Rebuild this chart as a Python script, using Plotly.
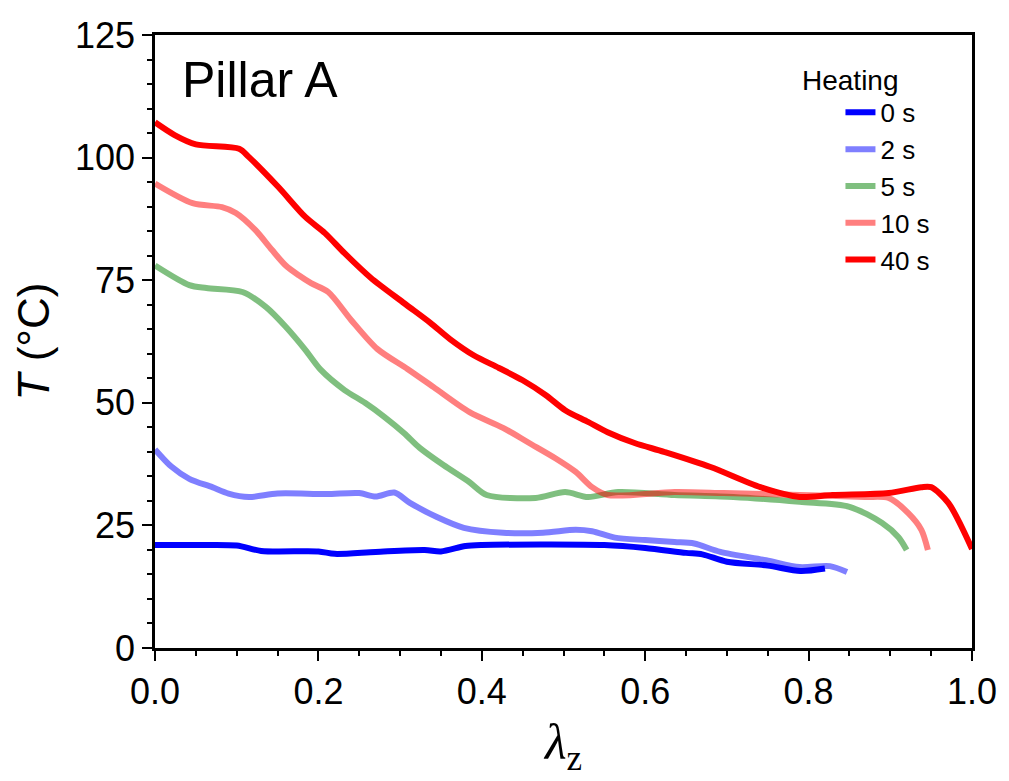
import plotly.graph_objects as go

# Data
x_0s = [0, 0.05, 0.10, 0.13, 0.20, 0.22, 0.27, 0.33, 0.35, 0.38, 0.40, 0.55, 0.60, 0.65, 0.67, 0.70, 0.75, 0.79, 0.82]
t_0s = [21, 21, 20.9, 19.8, 19.7, 19.2, 19.6, 20, 19.7, 20.8, 21, 21, 20.4, 19.4, 19.1, 17.6, 16.8, 15.7, 16.2]

x_2s = [0, 0.02, 0.042, 0.07, 0.09, 0.115, 0.15, 0.21, 0.25, 0.27, 0.293, 0.312, 0.345, 0.378, 0.426,
        0.475, 0.515, 0.535, 0.563, 0.60, 0.636, 0.66, 0.692, 0.748, 0.789, 0.826, 0.847]
t_2s = [40.5, 37, 34.5, 32.8, 31.5, 30.8, 31.5, 31.4, 31.6, 30.9, 31.7, 29.6, 26.7, 24.5, 23.5,
        23.5, 24.1, 23.8, 22.5, 22.0, 21.6, 21.3, 19.6, 17.9, 16.5, 16.7, 15.5]

x_5s = [0, 0.042, 0.063, 0.107, 0.136, 0.16, 0.184, 0.203, 0.232, 0.257, 0.281, 0.305, 0.324, 0.353,
        0.385, 0.406, 0.466, 0.502, 0.53, 0.567, 0.636, 0.708, 0.789, 0.85, 0.89, 0.91, 0.92]
t_5s = [78, 74, 73.4, 72.6, 69.5, 65.5, 60.8, 56.7, 52.6, 50, 47.1, 43.8, 40.8, 37.3,
        33.8, 31.2, 30.6, 31.8, 30.8, 31.8, 31.2, 30.8, 29.8, 28.8, 25.5, 22.6, 20]

x_10s = [0, 0.046, 0.082, 0.099, 0.123, 0.143, 0.16, 0.176, 0.191, 0.212, 0.24, 0.272, 0.309, 0.341,
         0.385, 0.426, 0.458, 0.49, 0.515, 0.535, 0.554, 0.636, 0.696, 0.789, 0.869, 0.898, 0.922, 0.938, 0.946]
t_10s = [94.7, 90.7, 89.9, 88.7, 85.2, 81.2, 78.0, 76.0, 74.4, 72.6, 66.9, 61, 56.9, 53.2,
         48.1, 44.9, 41.8, 38.7, 35.9, 32.8, 31.2, 31.8, 31.6, 31.2, 30.8, 30.6, 27.5, 24.1, 20]

x_40s = [0, 0.024, 0.05, 0.103, 0.115, 0.151, 0.184, 0.208, 0.232, 0.264, 0.305, 0.337, 0.361, 0.39,
         0.421, 0.45, 0.478, 0.502, 0.53, 0.554, 0.587, 0.623, 0.68, 0.741, 0.789, 0.829, 0.898, 0.938,
         0.95, 0.971, 1.0]
t_40s = [107.2, 104.6, 102.7, 101.8, 100.1, 94, 87.9, 84.6, 80.5, 75.5, 70.3, 66.3, 63.0, 59.7,
         57.1, 54.6, 51.6, 48.5, 46.1, 44, 41.8, 40, 36.9, 32.8, 30.8, 31.2, 31.6, 32.8,
         32.8, 29.6, 20.2]

series = [
    ("0 s", x_0s, t_0s, "rgb(0,0,255)"),
    ("2 s", x_2s, t_2s, "rgba(0,0,255,0.5)"),
    ("5 s", x_5s, t_5s, "rgba(0,128,0,0.5)"),
    ("10 s", x_10s, t_10s, "rgba(255,0,0,0.5)"),
    ("40 s", x_40s, t_40s, "rgb(255,0,0)"),
]

fig = go.Figure()
for name, xs, ts, col in series:
    fig.add_trace(go.Scatter(x=xs, y=ts, mode="lines", name=name,
                             line=dict(color=col, width=6, shape="spline", smoothing=0.8)))

font = "Liberation Sans, Arial, sans-serif"
fig.update_layout(
    width=1009, height=781,
    margin=dict(l=155, r=28, t=35, b=133),
    plot_bgcolor="white", paper_bgcolor="white",
    font=dict(family=font, color="black"),
    showlegend=True,
    legend=dict(font=dict(size=26), x=0.839, y=0.912, xanchor="left", yanchor="top",
                bgcolor="rgba(0,0,0,0)", tracegroupgap=0),
    xaxis=dict(range=[0, 1], tickvals=[0, 0.2, 0.4, 0.6, 0.8, 1.0],
               ticktext=["0.0", "0.2", "0.4", "0.6", "0.8", "1.0"],
               ticks="outside", ticklen=10, tickwidth=2, tickcolor="black",
               minor=dict(dtick=0.05, ticks="outside", ticklen=5, tickwidth=2, tickcolor="black"),
               showline=True, linecolor="black", linewidth=2.5, mirror=True,
               showgrid=False, zeroline=False,
               tickfont=dict(size=36),
               title=dict(text="<i>λ</i><sub>z</sub>", font=dict(size=50, family="Liberation Serif, serif"), standoff=14)),
    yaxis=dict(range=[0, 125], tickvals=[0, 25, 50, 75, 100, 125],
               ticks="outside", ticklen=10, tickwidth=2, tickcolor="black",
               minor=dict(dtick=5, ticks="outside", ticklen=5, tickwidth=2, tickcolor="black"),
               showline=True, linecolor="black", linewidth=2.5, mirror=True,
               showgrid=False, zeroline=False,
               tickfont=dict(size=36),
               title=dict(text="<i>T</i> (°C)", font=dict(size=44), standoff=12)),
    annotations=[
        dict(text="Pillar A", xref="paper", yref="paper", x=0.030, y=0.976,
             xanchor="left", yanchor="top", showarrow=False, font=dict(size=50)),
        dict(text="Heating", xref="paper", yref="paper", x=0.79, y=0.954,
             xanchor="left", yanchor="top", showarrow=False, font=dict(size=28)),
    ],
)

fig.write_html("out.html")
